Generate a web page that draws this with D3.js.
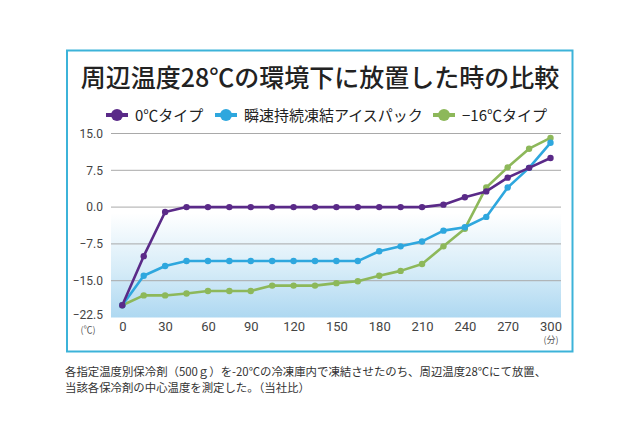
<!DOCTYPE html>
<html><head><meta charset="utf-8">
<script src="https://cdn.jsdelivr.net/npm/d3@7"></script>
<style>body{margin:0;background:#fff;}svg{display:block;font-family:"Noto Sans CJK JP","Noto Sans",sans-serif;}</style>
</head><body><svg id="c" width="640" height="427"></svg>
<script>
const times = [0,15,30,45,60,75,90,105,120,135,150,165,180,195,210,225,240,255,270,285,300];
const seriesNames = ["0℃タイプ","瞬速持続凍結アイスパック","−16℃タイプ"];
const type0 = [-20,-10,-1,0,0,0,0,0,0,0,0,0,0,0,0,0.5,2,3.2,6,8,10];
const instant = [-20,-14,-12,-11,-11,-11,-11,-11,-11,-11,-11,-11,-9,-8,-7,-4.8,-4.1,-2,4,8,13.1];
const type16 = [-20,-18,-18,-17.6,-17.1,-17.1,-17.1,-16,-16,-16,-15.5,-15.1,-14,-13,-11.6,-8,-4.4,4,8.1,11.9,14.1];
const yTicks = [15,7.5,0,-7.5,-15,-22.5];
const xTicks = [0,30,60,90,120,150,180,210,240,270,300];
const colors = ["#5a2a88","#2ea7de","#8db85a"];

const svg = d3.select("#c");
const x = d3.scaleLinear().domain([0,300]).range([122.3,550.5]);
const y = d3.scaleLinear().domain([-22.5,15]).range([317.5,133.5]);
const plotL = 111, plotR = 561;

// frame
svg.append("rect").attr("x",67).attr("y",50.5).attr("width",505.5).attr("height",301)
  .attr("fill","none").attr("stroke","#3cb3d9").attr("stroke-width",2);

// title
svg.append("text").attr("x",320).attr("y",87).attr("text-anchor","middle")
  .attr("font-size",25).attr("font-weight",500).attr("fill","#222")
  .text("周辺温度28℃の環境下に放置した時の比較");

// gradient background
const defs = svg.append("defs");
const g = defs.append("linearGradient").attr("id","bg").attr("x1",0).attr("x2",0).attr("y1",0).attr("y2",1);
g.append("stop").attr("offset","0%").attr("stop-color","#ffffff");
g.append("stop").attr("offset","55%").attr("stop-color","#d6ecf8");
g.append("stop").attr("offset","100%").attr("stop-color","#aed8f1");
svg.append("rect").attr("x",plotL).attr("y",y(-1.2)).attr("width",plotR-plotL).attr("height",y(-22.5)-y(-1.2))
  .attr("fill","url(#bg)");

// grid
const yAxis = d3.axisLeft(y).tickValues(yTicks).tickFormat(d3.format(".1f")).tickSize(0).tickPadding(10);
const ga = svg.append("g").attr("transform",`translate(${plotL},0)`).call(yAxis);
ga.select(".domain").remove();
ga.selectAll("text").attr("font-family","Roboto,'Noto Sans',sans-serif").attr("font-size",12).attr("fill","#444")
  .attr("x",-8).attr("text-anchor","end")
  .attr("dy",d=>d===-22.5?"0.1em":"0.32em");
svg.append("g").selectAll("line").data(yTicks.filter(d=>d>-22.5)).join("line")
  .attr("x1",plotL).attr("x2",plotR).attr("y1",d=>y(d)).attr("y2",d=>y(d))
  .attr("stroke","#a9a9a9").attr("stroke-width",1);

const xAxis = d3.axisBottom(x).tickValues(xTicks).tickSize(0).tickPadding(0);
const gx = svg.append("g").attr("transform",`translate(0,${y(-22.5)})`).call(xAxis);
gx.select(".domain").remove();
gx.selectAll("text").attr("font-family","Roboto,'Noto Sans',sans-serif").attr("font-size",13).attr("fill","#444").attr("dy","1.05em");

svg.append("text").attr("x",88).attr("y",333).attr("text-anchor","middle").attr("font-size",9).attr("fill","#555").text("(℃)");
svg.append("text").attr("x",551).attr("y",343).attr("text-anchor","middle").attr("font-size",9).attr("fill","#555").text("(分)");

// lines
const all = [type0, instant, type16];
const line = d3.line().x((d,i)=>x(times[i])).y(d=>y(d));
[2,1,0].forEach(k=>{
  svg.append("path").datum(all[k]).attr("d",line).attr("fill","none")
    .attr("stroke",colors[k]).attr("stroke-width",2.6).attr("stroke-linejoin","round");
  svg.append("g").selectAll("circle").data(all[k]).join("circle")
    .attr("cx",(d,i)=>x(times[i])).attr("cy",d=>y(d)).attr("r",3.2).attr("fill",colors[k]);
});

// legend
const legX = [106,215,433];
const lg = svg.append("g");
seriesNames.forEach((n,k)=>{
  const gg = lg.append("g").attr("transform",`translate(${legX[k]},115)`);
  gg.append("line").attr("x1",0).attr("x2",22).attr("y1",0).attr("y2",0).attr("stroke",colors[k]).attr("stroke-width",4);
  gg.append("circle").attr("cx",11).attr("cy",0).attr("r",6).attr("fill",colors[k]);
  gg.append("text").attr("x",29).attr("y",5.5).attr("font-size",15).attr("fill","#222").text(n);
});

// note
const note = ["各指定温度別保冷剤（500ｇ）を-20℃の冷凍庫内で凍結させたのち、周辺温度28℃にて放置、","当該各保冷剤の中心温度を測定した。（当社比）"];
svg.append("g").selectAll("text").data(note).join("text")
  .attr("x",65).attr("y",(d,i)=>376+i*15.5).attr("font-size",11.4).attr("fill","#333").text(d=>d);
</script></body></html>
